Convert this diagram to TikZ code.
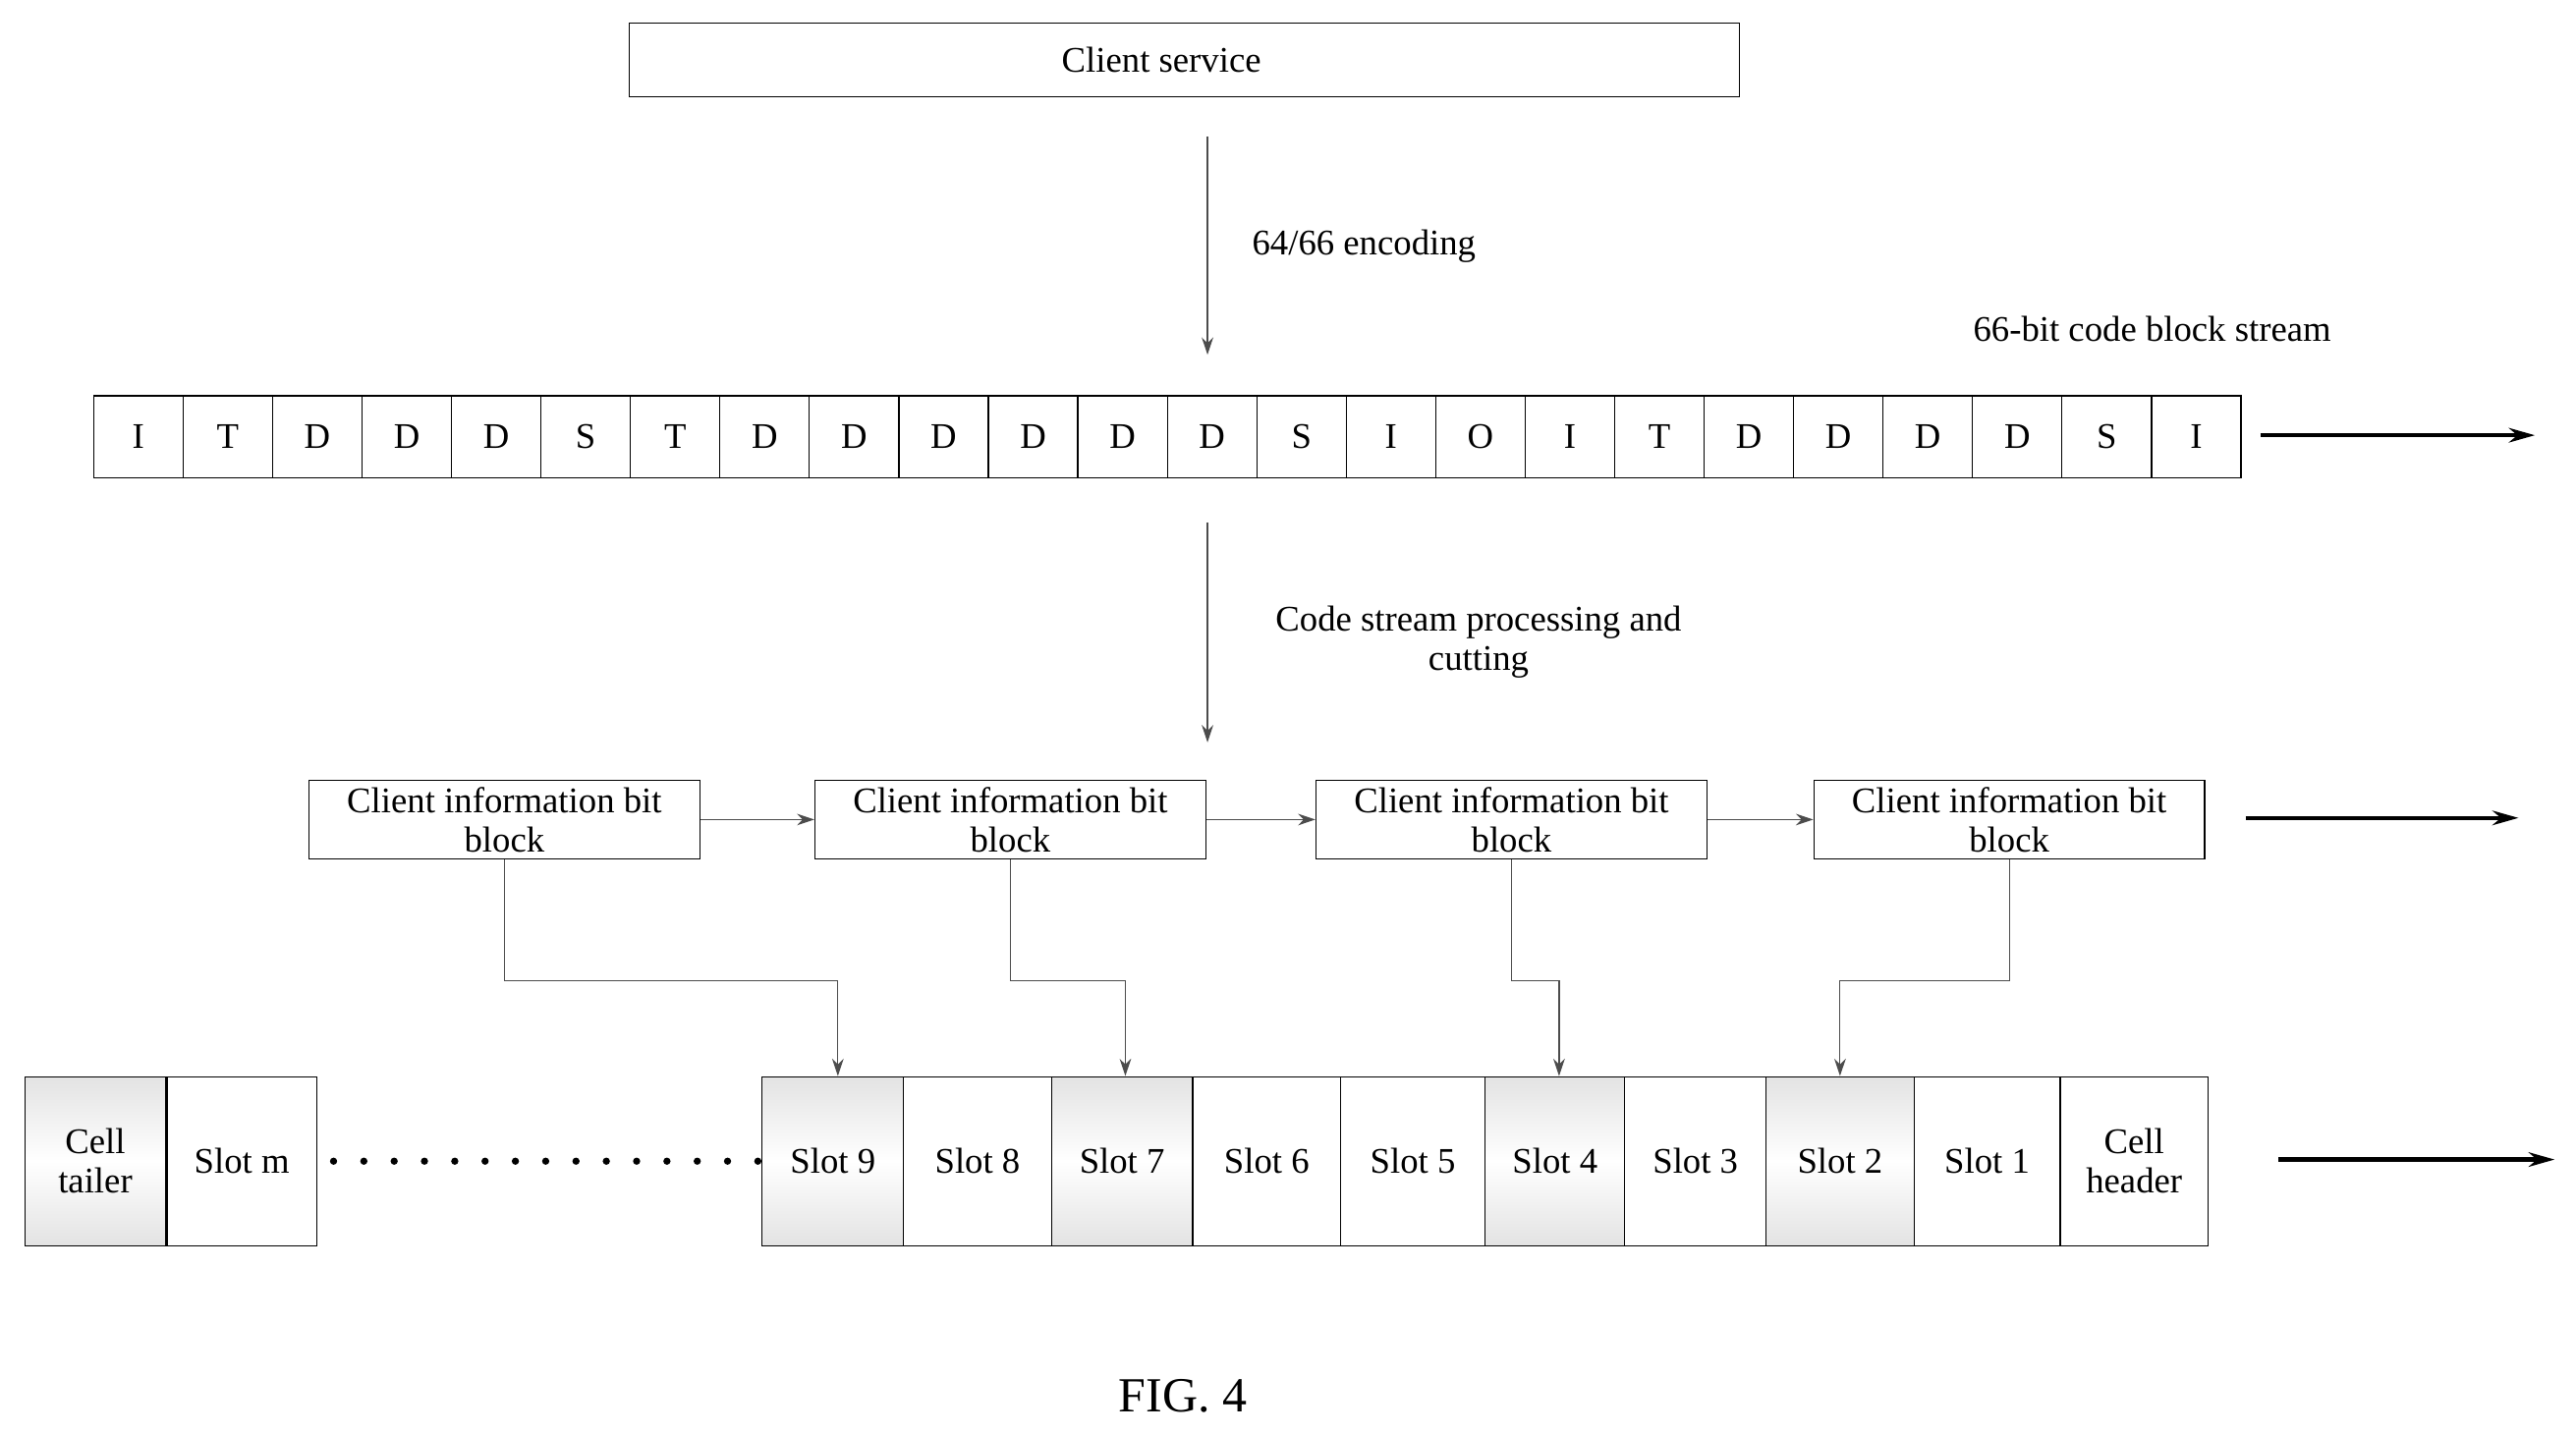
\documentclass[tikz,border=0pt]{standalone}
\usepackage{fontspec}
\setmainfont{Liberation Serif}
\usetikzlibrary{arrows.meta,positioning}
\begin{document}
\begin{tikzpicture}[x=0.02cm,y=-0.02cm,
  every node/.style={font=\fontsize{12.5}{13.5}\selectfont},
  box/.style={draw,rectangle,inner sep=0pt,align=center},
  cell/.style={box,minimum width=1.089cm,minimum height=1cm},
  info/.style={box,minimum width=4.76cm,minimum height=0.96cm},
  slot/.style={box,minimum height=2.06cm},
  dark/.style={top color=gray!22,bottom color=gray!22,middle color=white},
  arr/.style={-{Stealth[length=6pt,width=4pt]},gray!60!black},
  bigarr/.style={-{Stealth[length=9pt,width=5pt]},line width=1.5pt}]

\useasboundingbox (0,0) rectangle (1568,872);

% Client service
\node[box,minimum width=13.52cm,minimum height=0.9cm] (srv) at (721,36.5) {\hspace*{-16pt}Client service};
\coordinate (a1) at (735,83);
\coordinate (a2) at (735,216);
\draw[arr] (a1) -- (a2);
\node[anchor=west] (enc) at (756,150) {64/66 encoding};
\node (cbs) at (1310,200) {66-bit code block stream};

% Code block stream
\foreach \t [count=\i] in {I,T,D,D,D,S,T,D,D,D,D,D,D,S,I,O,I,T,D,D,D,D,S,I}
  \node[cell] (c\i) at ({57+54.46*(\i-0.5)},266) {\t};
\coordinate (s1) at (1376,265);
\coordinate (s2) at (1543,265);
\draw[bigarr] (s1) -- (s2);

\coordinate (b1) at (735,318);
\coordinate (b2) at (735,452);
\draw[arr] (b1) -- (b2);
\node[align=center] (cut) at (900,391) {Code stream processing and\\cutting};

% Client information bit blocks
\foreach \x [count=\i] in {307,615,920,1223}
  \node[info] (k\i) at (\x,499) {Client information bit\\block};
\draw[arr] (k1) -- (k2);
\draw[arr] (k2) -- (k3);
\draw[arr] (k3) -- (k4);
\coordinate (r1) at (1367,498);
\coordinate (r2) at (1533,498);
\draw[bigarr] (r1) -- (r2);

% Cell
\node[slot,dark,minimum width=1.72cm] (tail) at (58,707) {Cell\\tailer};
\node[slot,minimum width=1.82cm,right=0pt of tail] (sm) {Slot m};
\foreach \n/\xa/\xb/\st in {9/464/550/dark,8/550/640/,7/640/726/dark,6/726/816/,5/816/904/,
    4/904/989/dark,3/989/1075/,2/1075/1165/dark,1/1165/1254/}
  \node[slot,\st,minimum width={(\xb-\xa)*0.02cm}] (sl\n) at ({(\xa+\xb)/2},707) {Slot \n};
\node[slot,minimum width=1.8cm] (hd) at (1299,707) {Cell\\header};
\draw[line width=2.5pt,line cap=round,dash pattern=on 0pt off 10.5pt] (sm.east)++(10,0) -- (sl9.west);
\coordinate (h1) at (1387,706);
\coordinate (h2) at (1555,706);
\draw[bigarr] (h1) -- (h2);

% Mapping
\draw[arr] (k1.south) |- (510,597) -- (sl9.north -| 510,0);
\draw[arr] (k2.south) |- (685,597) -- (sl7.north -| 685,0);
\draw[arr] (k3.south) |- (949,597) -- (sl4.north -| 949,0);
\draw[arr] (k4.south) |- (1120,597) -- (sl2.north -| 1120,0);

\node[font=\fontsize{17}{18}\selectfont] (fig) at (720,850) {FIG. 4};
\end{tikzpicture}
\end{document}
